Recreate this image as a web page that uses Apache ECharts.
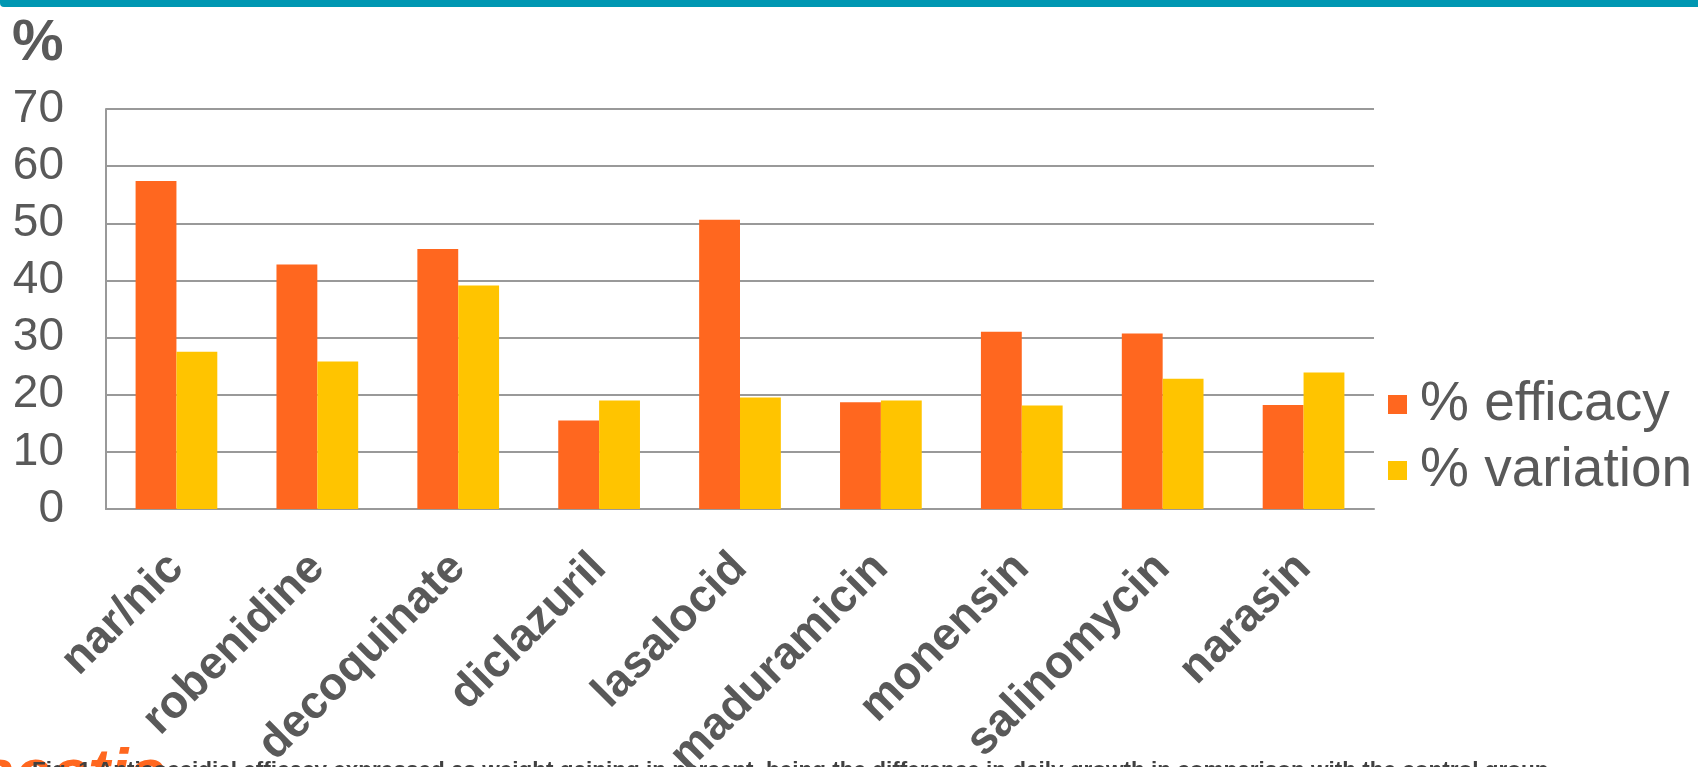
<!DOCTYPE html>
<html>
<head>
<meta charset="utf-8">
<script src="https://cdn.jsdelivr.net/npm/echarts@6/dist/echarts.min.js"></script>
<style>
  html, body { margin: 0; padding: 0; background: #fff; }
  #chart { width: 1698px; height: 767px; }
</style>
</head>
<body>
<div id="chart"></div>
<script>
// drugs on the x axis
const drugs = ['nar/nic', 'robenidine', 'decoquinate', 'diclazuril', 'lasalocid',
  'maduramicin', 'monensin', 'salinomycin', 'narasin']
// values
const efficacy = [57.4, 42.8, 45.5, 15.5, 50.6, 18.7, 31.0, 30.7, 18.2]
const variation = [27.5, 25.8, 39.1, 19.0, 19.5, 19.0, 18.1, 22.8, 23.9]
const seriesNames = ['% efficacy', '% variation']

const font = 'Arial, "Liberation Sans", sans-serif'
const grey = '#595959'
const lineGrey = '#999999'

const chart = echarts.init(document.getElementById('chart'))

const option = {
  animation: false,
  textStyle: { fontFamily: font },
  color: ['#FF671F', '#FFC400'],
  grid: { left: 106, right: 324, top: 109, bottom: 258, containLabel: false, outerBoundsMode: 'none' },
  legend: {
    orient: 'vertical',
    left: 1383,
    top: 372,
    itemWidth: 19,
    itemHeight: 19,
    itemGap: 11,
    icon: 'rect',
    data: seriesNames,
    textStyle: { fontSize: 55, color: grey, lineHeight: 55, padding: [0, 0, 0, 8] }
  },
  xAxis: {
    type: 'category',
    data: drugs,
    axisTick: { show: false },
    axisLine: { lineStyle: { color: lineGrey, width: 2 } },
    axisLabel: {
      rotate: 45,
      interval: 0,
      margin: 52,
      fontSize: 46,
      fontWeight: 'bold',
      color: grey
    }
  },
  yAxis: {
    type: 'value',
    min: 0,
    max: 70,
    interval: 10,
    axisLine: { show: true, lineStyle: { color: lineGrey, width: 2 } },
    axisTick: { show: false },
    splitLine: { lineStyle: { color: lineGrey, width: 2 } },
    axisLabel: { fontSize: 46, color: grey, margin: 42 }
  },
  series: [
    {
      name: seriesNames[0],
      type: 'bar',
      data: efficacy,
      barGap: '0%',
      barCategoryGap: '42%'
    },
    {
      name: seriesNames[1],
      type: 'bar',
      data: variation,
      barGap: '0%',
      barCategoryGap: '42%'
    }
  ],
  graphic: [
    // teal band at the top
    { type: 'rect', left: 0, top: 0, shape: { width: 1698, height: 7, r: [0, 0, 0, 4] }, style: { fill: '#0097B2' } },
    // unit label
    { type: 'text', left: 12, top: 15, style: { text: '%', fontSize: 58, fontWeight: 'bold', fill: grey, fontFamily: font } },
    // logo piece, cut by the bottom edge
    { type: 'text', left: -22, top: 744, style: { text: 'aectic', fontSize: 66, fontWeight: 'bold', fontStyle: 'italic', fill: '#FF671F', fontFamily: font } },
    // caption, cut by the bottom edge
    { type: 'text', left: 32, top: 759, style: { text: 'Fig. 1 Anticoccidial efficacy expressed as weight gaining in percent, being the difference in daily growth in comparison with the control group', fontSize: 22.5, fontWeight: 'bold', fill: '#404040', fontFamily: font } }
  ]
}

chart.setOption(option)
</script>
</body>
</html>
